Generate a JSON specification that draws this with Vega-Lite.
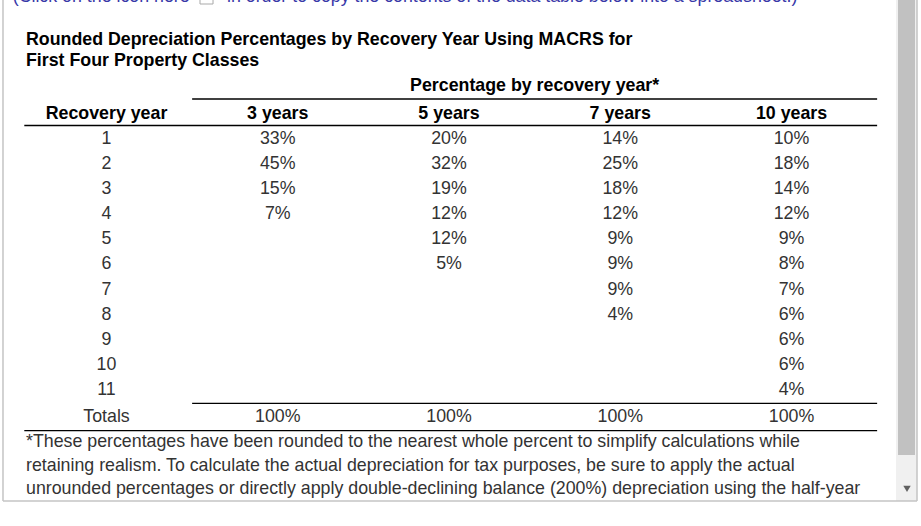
{
  "$schema": "https://vega.github.io/schema/vega-lite/v6.json",
  "width": 921,
  "height": 526,
  "autosize": {"type": "fit", "contains": "padding"},
  "padding": 0,
  "background": "white",
  "view": {"stroke": null},
  "config": {"text": {"font": "Liberation Sans", "fontSize": 17.8, "baseline": "middle"}},
  "datasets": {
    "cells": [
      {"col": -0.5477, "row": -4.458, "text": "(Click on the icon here", "style": "link"},
      {"col": 0.7036, "row": -4.458, "text": "in order to copy the contents of the data table below into a spreadsheet.)", "style": "link"},
      {"col": -0.4701, "row": -2.96, "text": "Rounded Depreciation Percentages by Recovery Year Using MACRS for", "style": "title"},
      {"col": -0.4701, "row": -2.09, "text": "First Four Property Classes", "style": "title"},
      {"col": 2.5, "row": -1.12, "text": "Percentage by recovery year*", "style": "head"},
      {"col": 0, "row": 0, "text": "Recovery year", "style": "head"},
      {"col": 1, "row": 0, "text": "3 years", "style": "head"},
      {"col": 2, "row": 0, "text": "5 years", "style": "head"},
      {"col": 3, "row": 0, "text": "7 years", "style": "head"},
      {"col": 4, "row": 0, "text": "10 years", "style": "head"},
      {"col": 0, "row": 1, "text": "1", "style": "cell"},
      {"col": 1, "row": 1, "text": "33%", "style": "cell"},
      {"col": 2, "row": 1, "text": "20%", "style": "cell"},
      {"col": 3, "row": 1, "text": "14%", "style": "cell"},
      {"col": 4, "row": 1, "text": "10%", "style": "cell"},
      {"col": 0, "row": 2, "text": "2", "style": "cell"},
      {"col": 1, "row": 2, "text": "45%", "style": "cell"},
      {"col": 2, "row": 2, "text": "32%", "style": "cell"},
      {"col": 3, "row": 2, "text": "25%", "style": "cell"},
      {"col": 4, "row": 2, "text": "18%", "style": "cell"},
      {"col": 0, "row": 3, "text": "3", "style": "cell"},
      {"col": 1, "row": 3, "text": "15%", "style": "cell"},
      {"col": 2, "row": 3, "text": "19%", "style": "cell"},
      {"col": 3, "row": 3, "text": "18%", "style": "cell"},
      {"col": 4, "row": 3, "text": "14%", "style": "cell"},
      {"col": 0, "row": 4, "text": "4", "style": "cell"},
      {"col": 1, "row": 4, "text": "7%", "style": "cell"},
      {"col": 2, "row": 4, "text": "12%", "style": "cell"},
      {"col": 3, "row": 4, "text": "12%", "style": "cell"},
      {"col": 4, "row": 4, "text": "12%", "style": "cell"},
      {"col": 0, "row": 5, "text": "5", "style": "cell"},
      {"col": 2, "row": 5, "text": "12%", "style": "cell"},
      {"col": 3, "row": 5, "text": "9%", "style": "cell"},
      {"col": 4, "row": 5, "text": "9%", "style": "cell"},
      {"col": 0, "row": 6, "text": "6", "style": "cell"},
      {"col": 2, "row": 6, "text": "5%", "style": "cell"},
      {"col": 3, "row": 6, "text": "9%", "style": "cell"},
      {"col": 4, "row": 6, "text": "8%", "style": "cell"},
      {"col": 0, "row": 7, "text": "7", "style": "cell"},
      {"col": 3, "row": 7, "text": "9%", "style": "cell"},
      {"col": 4, "row": 7, "text": "7%", "style": "cell"},
      {"col": 0, "row": 8, "text": "8", "style": "cell"},
      {"col": 3, "row": 8, "text": "4%", "style": "cell"},
      {"col": 4, "row": 8, "text": "6%", "style": "cell"},
      {"col": 0, "row": 9, "text": "9", "style": "cell"},
      {"col": 4, "row": 9, "text": "6%", "style": "cell"},
      {"col": 0, "row": 10, "text": "10", "style": "cell"},
      {"col": 4, "row": 10, "text": "6%", "style": "cell"},
      {"col": 0, "row": 11, "text": "11", "style": "cell"},
      {"col": 4, "row": 11, "text": "4%", "style": "cell"},
      {"col": 0, "row": 12.08, "text": "Totals", "style": "cell"},
      {"col": 1, "row": 12.08, "text": "100%", "style": "cell"},
      {"col": 2, "row": 12.08, "text": "100%", "style": "cell"},
      {"col": 3, "row": 12.08, "text": "100%", "style": "cell"},
      {"col": 4, "row": 12.08, "text": "100%", "style": "cell"},
      {"col": -0.4701, "row": 13.07, "text": "*These percentages have been rounded to the nearest whole percent to simplify calculations while", "style": "note"},
      {"col": -0.4701, "row": 14.02, "text": "retaining realism. To calculate the actual depreciation for tax purposes, be sure to apply the actual", "style": "note"},
      {"col": -0.4701, "row": 14.95, "text": "unrounded percentages or directly apply double-declining balance (200%) depreciation using the half-year", "style": "note"}
    ],
    "panels": [
      {"part": "track", "col": 4.6102, "col2": 4.7329, "row": -4.6, "row2": 15.42},
      {"part": "thumb", "col": 4.6219, "col2": 4.7212, "row": -4.6, "row2": 13.59},
      {"part": "icon", "col": 0.546, "col2": 0.622, "row": -4.9, "row2": -4.378}
    ],
    "frame": [
      {"col": -0.6044, "col2": -0.6044, "row": -4.6, "row2": 15.42},
      {"col": -0.6044, "col2": 4.7329, "row": 15.42, "row2": 15.42},
      {"col": 4.7329, "col2": 4.7329, "row": -4.6, "row2": 15.42}
    ],
    "lines": [
      {"col": 0.5, "col2": 4.5, "row": -0.594, "row2": -0.594},
      {"col": -0.48, "col2": 4.5, "row": 0.462, "row2": 0.462},
      {"col": 0.5, "col2": 4.5, "row": 11.53, "row2": 11.53},
      {"col": -0.48, "col2": 4.5, "row": 12.62, "row2": 12.62}
    ],
    "arrow": [
      {"col": 4.6745, "row": 14.94}
    ]
  },
  "encoding": {
    "x": {"field": "col", "type": "quantitative", "scale": {"domain": [-0.6219, 4.7562], "nice": false, "zero": false}, "axis": null},
    "y": {"field": "row", "type": "quantitative", "scale": {"domain": [-4.5378, 16.4183], "nice": false, "zero": false, "reverse": true}, "axis": null}
  },
  "layer": [
    {
      "data": {"name": "panels"},
      "transform": [{"filter": "datum.part === 'track'"}],
      "mark": {"type": "rect", "fill": "#f0f0f0", "clip": true},
      "encoding": {"x2": {"field": "col2"}, "y2": {"field": "row2"}}
    },
    {
      "data": {"name": "panels"},
      "transform": [{"filter": "datum.part === 'thumb'"}],
      "mark": {"type": "rect", "fill": "#c1c1c1", "clip": true},
      "encoding": {"x2": {"field": "col2"}, "y2": {"field": "row2"}}
    },
    {
      "data": {"name": "panels"},
      "transform": [{"filter": "datum.part === 'icon'"}],
      "mark": {"type": "rect", "fill": "white", "stroke": "#a9a9a9", "strokeWidth": 1, "clip": true},
      "encoding": {"x2": {"field": "col2"}, "y2": {"field": "row2"}}
    },
    {
      "data": {"name": "frame"},
      "mark": {"type": "rule", "color": "#c4c4c4", "strokeWidth": 1.5, "clip": true},
      "encoding": {"x2": {"field": "col2"}, "y2": {"field": "row2"}}
    },
    {
      "data": {"name": "lines"},
      "mark": {"type": "rule", "color": "#000000", "strokeWidth": 1.3},
      "encoding": {"x2": {"field": "col2"}, "y2": {"field": "row2"}}
    },
    {
      "data": {"name": "arrow"},
      "mark": {"type": "point", "shape": "triangle-down", "filled": true, "color": "#606060", "size": 55, "opacity": 1}
    },
    {
      "data": {"name": "cells"},
      "transform": [{"filter": "datum.style === 'link'"}],
      "mark": {"type": "text", "align": "left", "baseline": "alphabetic", "color": "#3838a8", "clip": true},
      "encoding": {"text": {"field": "text"}}
    },
    {
      "data": {"name": "cells"},
      "transform": [{"filter": "datum.style === 'title'"}],
      "mark": {"type": "text", "align": "left", "fontWeight": "bold", "color": "#000000"},
      "encoding": {"text": {"field": "text"}}
    },
    {
      "data": {"name": "cells"},
      "transform": [{"filter": "datum.style === 'head'"}],
      "mark": {"type": "text", "align": "center", "fontWeight": "bold", "color": "#000000"},
      "encoding": {"text": {"field": "text"}}
    },
    {
      "data": {"name": "cells"},
      "transform": [{"filter": "datum.style === 'cell'"}],
      "mark": {"type": "text", "align": "center", "color": "#333333"},
      "encoding": {"text": {"field": "text"}}
    },
    {
      "data": {"name": "cells"},
      "transform": [{"filter": "datum.style === 'note'"}],
      "mark": {"type": "text", "align": "left", "color": "#333333"},
      "encoding": {"text": {"field": "text"}}
    }
  ]
}
